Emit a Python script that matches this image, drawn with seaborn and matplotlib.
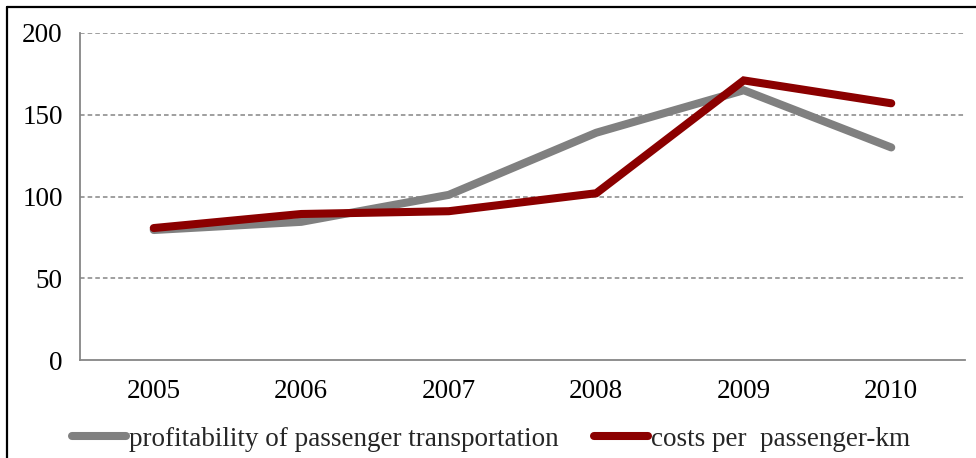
import matplotlib
matplotlib.use("Agg")
import matplotlib.pyplot as plt
from matplotlib.lines import Line2D
import seaborn as sns
import pandas as pd
import numpy as np

years = ["2005", "2006", "2007", "2008", "2009", "2010"]
profitability = [79.5, 84.5, 101, 139, 165, 130]
costs = [80.7, 89.3, 91, 102, 171, 157]
series_names = ["profitability of passenger transportation", "costs per  passenger-km"]
yticks = [0, 50, 100, 150, 200]

sns.set_theme(style="white")
plt.rcParams['font.family'] = ['Liberation Serif', 'DejaVu Serif']

df = pd.DataFrame({
    "pos": list(range(len(years))) * 2,
    "value": profitability + costs,
    "series": [series_names[0]] * len(years) + [series_names[1]] * len(years),
})

FS = 19.5
fig = plt.figure(figsize=(9.76, 4.58), dpi=100)
ax = fig.add_axes([80/976, 1-360/458, (965-80)/976, (360-33)/458])

palette = {series_names[0]: "#808080", series_names[1]: "#8B0000"}
sns.lineplot(data=df, x="pos", y="value", hue="series", palette=palette,
             linewidth=5.8, ax=ax, legend=False, sort=False)
for ln in ax.lines:
    ln.set_solid_capstyle("round")
    ln.set_solid_joinstyle("miter")

ax.set_xlim(-0.5, len(years) - 0.5)
ax.set_ylim(0, 200)
ax.set_yticks(yticks)
ax.set_yticklabels([str(t) for t in yticks], fontsize=FS, color="black")
ax.set_xticks(range(len(years)))
ax.set_xticklabels(years, fontsize=FS, color="black")
ax.set_xticks(np.arange(-0.5, len(years)), minor=True)
ax.tick_params(axis="x", which="major", length=0, pad=14)
ax.tick_params(axis="x", which="minor", length=6.5, width=1.2, color="#868686")
ax.tick_params(axis="y", which="major", length=6.5, width=1.2, color="#868686", pad=6)
ax.set_xlabel("")
ax.set_ylabel("")

for y in yticks[1:]:
    ax.axhline(y, color="#858585", linewidth=1.1, linestyle=(0, (3, 2)), zorder=0)

for s in ["top", "right"]:
    ax.spines[s].set_visible(False)
for s in ["left", "bottom"]:
    ax.spines[s].set_color("#868686")
    ax.spines[s].set_linewidth(1.3)

handles = [Line2D([0], [0], color=palette[n], linewidth=5.8, solid_capstyle="round") for n in series_names]
fig.legend(handles, series_names, loc="center left", bbox_to_anchor=(72/976, 1-439/458),
           ncol=2, frameon=False, fontsize=FS, handlelength=2.0, handletextpad=0.1,
           columnspacing=1.3, borderpad=0, borderaxespad=0)

fig.add_artist(Line2D([6.5/976, 6.5/976], [0, 1-7/458], color="black", linewidth=1.6, transform=fig.transFigure))
fig.add_artist(Line2D([6.5/976, 1], [1-7/458, 1-7/458], color="black", linewidth=1.6, transform=fig.transFigure))

fig.savefig("out.png", dpi=100)
